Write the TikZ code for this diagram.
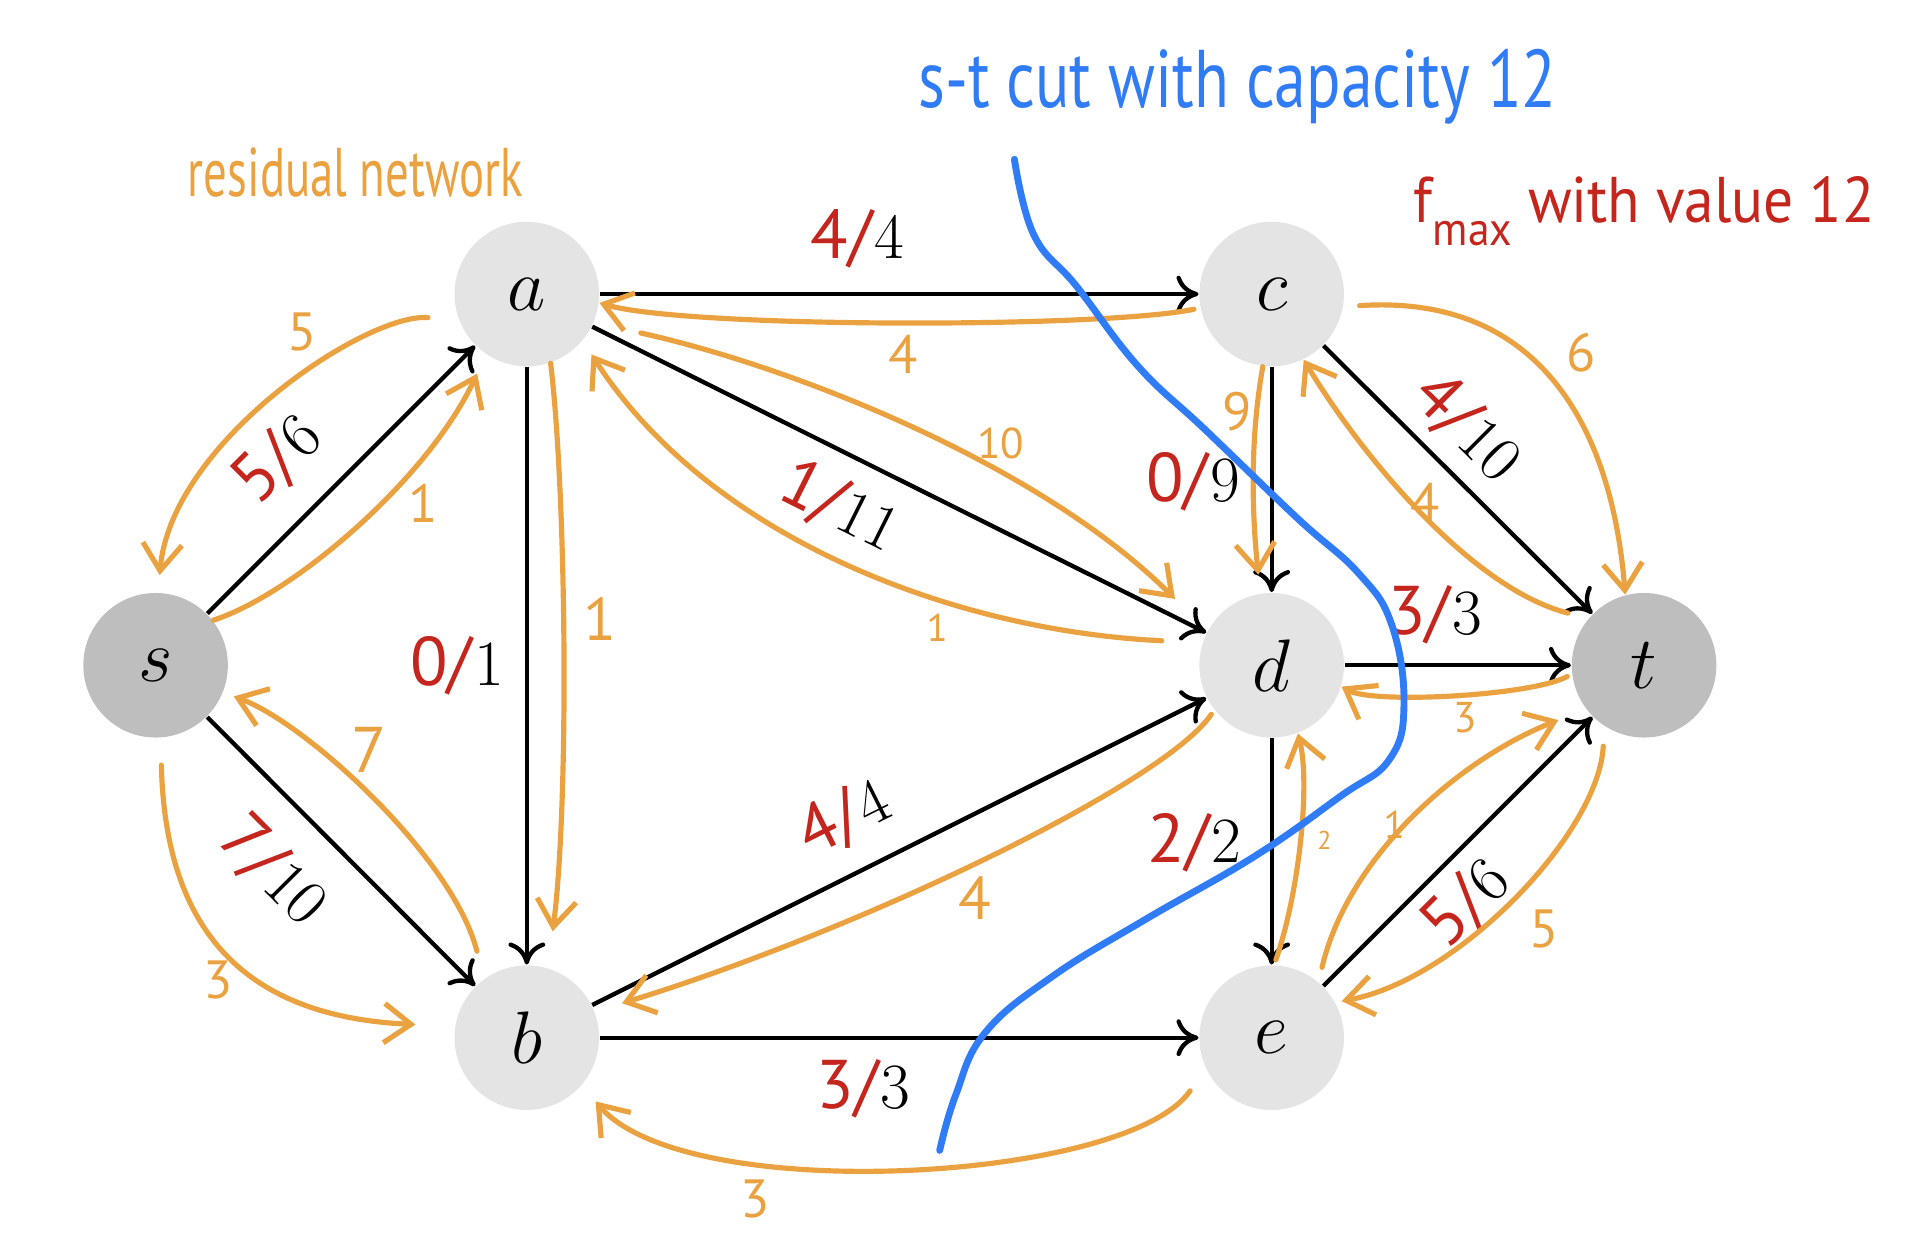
\documentclass[tikz,border=0pt]{standalone}
\usepackage{xcolor}
\usepackage{fontspec}
\usepackage{tikz}
\usetikzlibrary{arrows.meta}

\newfontfamily\handfont{PT Sans}
\newcommand{\handsize}[1]{\handfont\fontsize{#1}{#1}\selectfont}
\newcommand{\flowcap}[2]{{\handsize{16}\color{flowred}#1/}\kern0.5pt#2}

\definecolor{resorange}{RGB}{234,161,64}
\definecolor{flowred}{RGB}{196,37,29}
\definecolor{cutblue}{RGB}{48,124,246}
\definecolor{lightnode}{RGB}{228,228,228}
\definecolor{darknode}{RGB}{190,190,190}

\begin{document}
\begin{tikzpicture}[x=0.1mm, y=-0.1mm]
    % Define block styles
    \tikzstyle{vertex} = [circle, fill=lightnode, minimum size=11.8mm, inner sep=0pt, font=\fontsize{17}{17}\selectfont]
    \tikzstyle{terminal} = [vertex, fill=darknode]
    \tikzstyle{arrow} = [line width=1pt, -{To[length=1.8mm, width=3mm]}]
    \tikzstyle{flow} = [font=\fontsize{15}{15}\selectfont, inner sep=0pt]
    \tikzstyle{resarrow} = [draw=resorange, line width=1.2pt, line cap=round, -{Straight Barb[length=2.2mm, width=3.2mm]}]
    \tikzstyle{reslab} = [text=resorange, inner sep=0pt, font=\handsize{12.5}]
    \tikzstyle{cut} = [draw=cutblue, line width=1.6pt, line cap=round]

    \useasboundingbox (0,0) rectangle (1568,1020);

    % Draw nodes
    \node (s) [terminal] at (127,543) {$s$};
    \node (a) [vertex] at (430,240) {$a$};
    \node (b) [vertex] at (430,847) {$b$};
    \node (c) [vertex] at (1038,240) {$c$};
    \node (d) [vertex] at (1038,543) {$d$};
    \node (e) [vertex] at (1038,847) {$e$};
    \node (t) [terminal] at (1342,543) {$t$};

    % Draw edges
    \draw [arrow] (s) -- (a) node [flow, sloped, pos=0.42, above=4.8mm, anchor=center] {\flowcap{5}{6}};
    \draw [arrow] (s) -- (b) node [flow, sloped, pos=0.41, below=5.1mm, anchor=center] {\flowcap{7}{10}};
    \draw [arrow] (a) -- (c) node [flow, pos=0.43, above=4.5mm, anchor=center] {\flowcap{4}{4}};
    \draw [arrow] (a) -- (b) node [flow, pos=0.5, left=5.7mm, anchor=center] {\flowcap{0}{1}};
    \draw [arrow] (a) -- (d) node [flow, sloped, pos=0.44, below=4.2mm, anchor=center] {\flowcap{1}{11}};
    \draw [arrow] (b) -- (d) node [flow, sloped, pos=0.45, above=4.4mm, anchor=center] {\flowcap{4}{4}};
    \draw [arrow] (b) -- (e) node [flow, pos=0.44, below=4.2mm, anchor=center] {\flowcap{3}{3}};
    \draw [arrow] (c) -- (d) node [flow, pos=0.51, left=6.4mm, anchor=center] {\flowcap{0}{9}};
    \draw [arrow] (c) -- (t) node [flow, sloped, pos=0.42, above=3.5mm, anchor=center] {\flowcap{4}{10}};
    \draw [arrow] (d) -- (t) node [flow, pos=0.4, above=4.1mm, anchor=center] {\flowcap{3}{3}};
    \draw [arrow] (d) -- (e) node [flow, pos=0.46, left=6.3mm, anchor=center] {\flowcap{2}{2}};
    \draw [arrow] (e) -- (t) node [flow, sloped, pos=0.42, below=3.5mm, anchor=center] {\flowcap{5}{6}};

    % Draw residual edges
    \draw [resarrow, shorten <=2.5mm, shorten >=1.4mm] (a.201) .. controls (300,255) and (140,360) .. (s.88);
    \draw [resarrow, shorten >=1.7mm] (s.38) .. controls (240,485) and (350,390) .. (a.236);
    \draw [resarrow, shorten <=0.5mm] (c.191) .. controls (900,268) and (560,268) .. (a.-7);
    \draw [resarrow, shorten >=3mm] (a.-71) .. controls (462,400) and (465,650) .. (b.73);
    \draw [resarrow, shorten <=3.9mm, shorten >=3.7mm] (a.-23) .. controls (650,300) and (850,380) .. (d.152);
    \draw [resarrow, shorten <=3.3mm, shorten >=1.3mm] (d.162) .. controls (780,515) and (580,440) .. (a.-40);
    \draw [resarrow, shorten >=1.5mm] (c.263) .. controls (1020,360) and (1022,420) .. (d.99);
    \draw [resarrow, shorten <=1.7mm] (t.140) .. controls (1200,480) and (1110,370) .. (c.-64);
    \draw [resarrow, shorten <=1.3mm] (c.-10) .. controls (1250,240) and (1315,340) .. (t.105);
    \draw [resarrow, shorten <=0.4mm] (t.187) .. controls (1250,568) and (1120,575) .. (d.-17);
    \draw [resarrow, shorten <=0.4mm, shorten >=2.3mm] (d.218) .. controls (950,640) and (700,760) .. (b.21);
    \draw [resarrow, shorten <=0.4mm] (e.88) .. controls (1060,730) and (1070,640) .. (d.-69);
    \draw [resarrow, shorten <=1.2mm, shorten >=2.4mm] (e.50) .. controls (1100,700) and (1190,620) .. (t.217);
    \draw [resarrow, shorten <=1.6mm, shorten >=0.5mm] (t.237) .. controls (1305,680) and (1190,800) .. (e.29);
    \draw [resarrow, shorten <=2.2mm, shorten >=1.7mm] (e.205) .. controls (920,965) and (560,985) .. (b.-41);
    \draw [resarrow, shorten <=2.2mm, shorten >=3.2mm] (s.-86) .. controls (135,760) and (200,830) .. (b.171);
    \draw [resarrow, shorten <=2.3mm, shorten >=0.9mm] (b.126) .. controls (370,700) and (250,590) .. (s.-22);

    % Residual capacities
    \node (las) [reslab] at (247,271) {5};
    \node (lsa) [reslab] at (345,411) {1};
    \node (lca) [reslab] at (737,289) {4};
    \node (lab) [reslab, font=\handsize{14}] at (490,505) {1};
    \node (lad) [reslab, font=\handsize{10}] at (817,362) {10};
    \node (lda) [reslab, font=\handsize{9}] at (765,512) {1};
    \node (lcd) [reslab] at (1010,336) {9};
    \node (ltc) [reslab] at (1163,410) {4};
    \node (lct) [reslab] at (1291,288) {6};
    \node (ltd) [reslab, font=\handsize{10}] at (1196,586) {3};
    \node (ldb) [reslab, font=\handsize{14}] at (796,733) {4};
    \node (led) [reslab, font=\handsize{6}] at (1081,686) {2};
    \node (let) [reslab, font=\handsize{9}] at (1138,673) {1};
    \node (lte) [reslab] at (1260,758) {5};
    \node (leb) [reslab] at (616,979) {3};
    \node (lsb) [reslab] at (178,800) {3};
    \node (lbs) [reslab, font=\handsize{15}] at (301,612) {7};

    % Draw the cut
    \draw [cut] plot [smooth, tension=0.7] coordinates {(828,130) (844,192) (879,234) (929,299) (984,351) (1059,423) (1109,468) (1136,510) (1146,575) (1134,620) (1094,650) (1024,699) (934,751) (859,797) (804,843) (780,894) (767,939)};

    % Annotations
    \node (restext) [text=resorange, font=\handsize{16}, xscale=0.68, transform shape, anchor=base] at (290,160) {residual network};
    \node (cuttext) [text=cutblue, font=\handsize{19}, xscale=0.78, transform shape, anchor=base] at (1010,88) {s-t cut with capacity 12};
    \node (fmaxtext) [text=flowred, font=\handsize{15}, xscale=0.92, transform shape, anchor=base] at (1342,182) {f\raisebox{-0.35em}{\handsize{11}max} with value 12};
\end{tikzpicture}
\end{document}
